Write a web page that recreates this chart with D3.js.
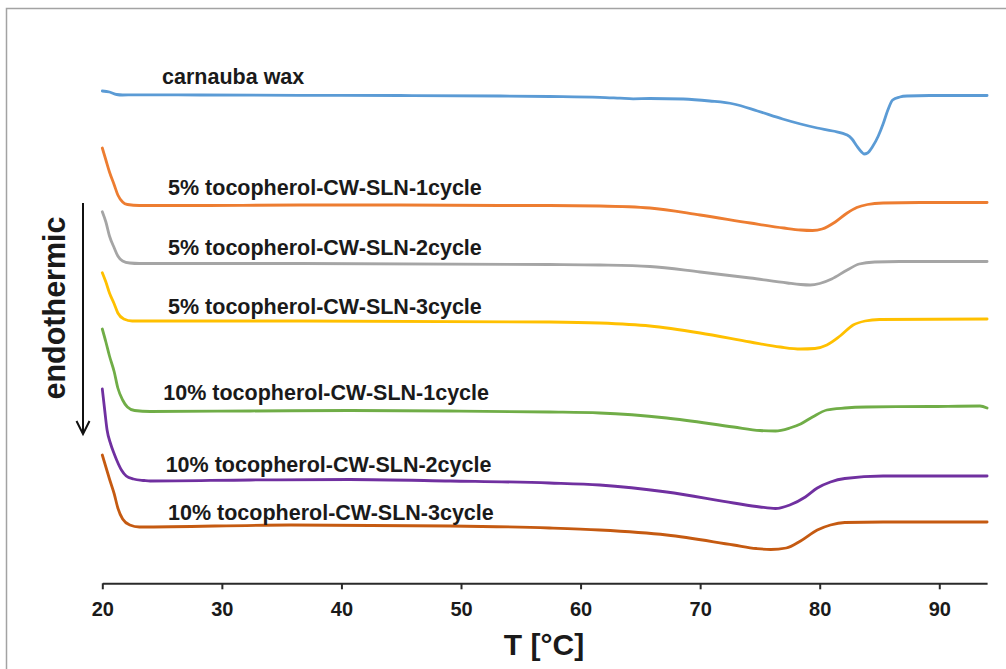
<!DOCTYPE html>
<html>
<head>
<meta charset="utf-8">
<script src="https://cdn.jsdelivr.net/npm/d3@7"></script>
<style>
  html, body { margin: 0; padding: 0; background: #fff; }
  svg { display: block; }
</style>
</head>
<body>
<svg id="chart" width="1006" height="669"></svg>
<script>
// DSC thermograms (stacked, offset heat flow in arbitrary units; down = endothermic)

const xTicks = [20, 30, 40, 50, 60, 70, 80, 90];

const seriesNames = [
  "carnauba wax",
  "5% tocopherol-CW-SLN-1cycle",
  "5% tocopherol-CW-SLN-2cycle",
  "5% tocopherol-CW-SLN-3cycle",
  "10% tocopherol-CW-SLN-1cycle",
  "10% tocopherol-CW-SLN-2cycle",
  "10% tocopherol-CW-SLN-3cycle"
];

const seriesColors = ["#5B9BD5", "#ED7D31", "#A5A5A5", "#FFC000", "#70AD47", "#7030A0", "#C55A11"];

// carnauba wax
const tempCW = [20.0, 20.6, 21.2, 21.7, 22.6, 28.2, 36.5, 44.9, 53.3, 57.4, 61.6, 63.3, 64.4, 65.8, 68.6,
                70.8, 72.8, 74.8, 76.9, 78.4, 79.8, 81.1, 82.3, 82.7, 83.1, 83.5, 83.7, 84.0, 84.4, 84.9,
                85.3, 85.7, 86.1, 86.7, 87.3, 89.2, 94.0];
const heatCW = [50.9, 50.8, 50.55, 50.5, 50.52, 50.5, 50.47, 50.45, 50.4, 50.35, 50.27, 50.18, 50.12, 50.15, 50.1,
                49.9, 49.6, 48.9, 48.1, 47.6, 47.2, 46.9, 46.5, 46.1, 45.4, 44.8, 44.6, 44.7, 45.3, 46.4,
                47.6, 49.0, 50.0, 50.3, 50.4, 50.45, 50.45];

// 5% tocopherol, cycle 1
const temp5c1 = [20.0, 20.3, 20.6, 21.0, 21.3, 21.7, 22.1, 23.1, 28.2, 36.5, 44.9, 53.3, 57.4, 61.6, 65.8,
                 70.0, 74.2, 77.0, 78.4, 79.4, 80.2, 81.3, 82.3, 83.1, 84.0, 85.3, 88.4, 94.0];
const heat5c1 = [45.2, 44.0, 42.8, 41.5, 40.5, 39.8, 39.55, 39.45, 39.45, 39.5, 39.5, 39.45, 39.45, 39.4, 39.2,
                 38.5, 37.7, 37.2, 37.0, 36.95, 37.1, 37.8, 38.7, 39.25, 39.55, 39.7, 39.75, 39.75];

// 5% tocopherol, cycle 2
const temp5c2 = [20.0, 20.3, 20.6, 21.0, 21.3, 21.7, 22.3, 23.1, 36.5, 57.4, 61.6, 65.8, 70.0, 74.2, 77.3,
                 78.4, 79.2, 80.0, 81.0, 82.3, 83.3, 84.6, 86.7, 94.0];
const heat5c2 = [38.83, 37.8, 36.4, 35.2, 34.4, 33.9, 33.7, 33.65, 33.65, 33.55, 33.5, 33.35, 32.8, 32.2, 31.7,
                 31.55, 31.5, 31.65, 32.1, 33.0, 33.6, 33.8, 33.85, 33.85];

// 5% tocopherol, cycle 3
const temp5c3 = [20.0, 20.3, 20.6, 21.0, 21.3, 21.8, 22.5, 24.0, 36.5, 57.4, 61.6, 65.8, 70.0, 74.2, 76.7,
                 78.4, 79.6, 80.6, 81.7, 82.8, 83.8, 85.0, 94.0];
const heat5c3 = [32.73, 31.8, 30.7, 29.6, 28.7, 28.1, 27.9, 27.9, 27.9, 27.8, 27.7, 27.4, 26.7, 25.8, 25.3,
                 25.1, 25.15, 25.5, 26.4, 27.5, 27.9, 28.05, 28.1];

// 10% tocopherol, cycle 1
const temp10c1 = [20.0, 20.3, 20.6, 21.0, 21.3, 21.7, 22.1, 22.7, 24.0, 32.4, 40.7, 49.1, 57.4, 61.6, 67.2,
                  72.8, 75.0, 76.3, 77.5, 78.4, 79.4, 80.6, 82.1, 83.9, 89.2, 93.4, 94.0];
const heat10c1 = [27.1, 25.8, 24.4, 22.8, 21.2, 20.0, 19.3, 18.95, 18.85, 18.9, 18.95, 18.9, 18.8, 18.7, 18.2,
                  17.3, 16.95, 16.9, 17.2, 17.6, 18.3, 19.0, 19.2, 19.3, 19.35, 19.4, 19.2];

// 10% tocopherol, cycle 2
const temp10c2 = [20.0, 20.2, 20.4, 20.7, 21.0, 21.2, 21.6, 22.0, 22.6, 23.5, 24.0, 32.4, 40.7, 49.1, 57.4,
                  61.6, 67.2, 72.8, 75.0, 76.3, 77.5, 78.8, 79.8, 80.9, 82.1, 85.3, 94.0];
const heat10c2 = [21.1, 19.0, 17.0, 15.6, 14.6, 14.0, 13.0, 12.4, 12.1, 11.95, 11.9, 12.0, 12.05, 11.9, 11.7,
                  11.5, 10.8, 9.7, 9.3, 9.15, 9.5, 10.3, 11.2, 11.8, 12.15, 12.4, 12.4];

// 10% tocopherol, cycle 3
const temp10c3 = [20.0, 20.3, 20.6, 21.0, 21.3, 21.7, 22.3, 23.1, 35.7, 49.1, 57.4, 61.6, 67.2, 72.8, 74.7,
                  75.9, 77.2, 78.4, 79.8, 80.9, 82.1, 85.3, 94.0];
const heat10c3 = [14.5, 13.3, 12.1, 10.6, 9.2, 8.1, 7.5, 7.3, 7.5, 7.4, 7.2, 7.0, 6.5, 5.5, 5.15,
                  5.05, 5.2, 5.9, 7.0, 7.5, 7.75, 7.8, 7.8];

const temps = [tempCW, temp5c1, temp5c2, temp5c3, temp10c1, temp10c2, temp10c3];
const heats = [heatCW, heat5c1, heat5c2, heat5c3, heat10c1, heat10c2, heat10c3];

// label anchor temperature and offset above each trace
const labelT    = [25.0, 25.5, 25.5, 25.5, 25.1, 25.3, 25.5];
const labelHeat = [51.6, 40.5, 34.5, 28.6, 20.0, 12.8, 8.0];

const svg = d3.select("#chart");

// outer frame
svg.append("rect")
  .attr("x", 6.5).attr("y", 8.5)
  .attr("width", 1010).attr("height", 680)
  .attr("fill", "none")
  .attr("stroke", "#a3a3a3")
  .attr("stroke-width", 1.5);

const x = d3.scaleLinear().domain([20, 94]).range([102.3, 987.1]);
const y = d3.scaleLinear().domain([0, 55]).range([600, 50]);

const line = d3.line()
  .x(d => x(d[0]))
  .y(d => y(d[1]))
  .curve(d3.curveMonotoneX);

const traces = seriesNames.map((name, i) => ({
  name,
  color: seriesColors[i],
  points: temps[i].map((t, j) => [t, heats[i][j]])
}));

svg.append("g")
  .selectAll("path")
  .data(traces)
  .join("path")
  .attr("d", d => line(d.points))
  .attr("fill", "none")
  .attr("stroke", d => d.color)
  .attr("stroke-width", 2.8)
  .attr("stroke-linejoin", "round")
  .attr("stroke-linecap", "round");

// trace labels
svg.append("g")
  .selectAll("text")
  .data(traces)
  .join("text")
  .attr("x", (d, i) => x(labelT[i]))
  .attr("y", (d, i) => y(labelHeat[i]))
  .attr("font-family", "'Liberation Sans', Arial, sans-serif")
  .attr("font-weight", "bold")
  .attr("font-size", 21.5)
  .attr("fill", "#1a1a1a")
  .text(d => d.name);

// x axis
const xAxis = d3.axisBottom(x)
  .tickValues(xTicks)
  .tickSize(6)
  .tickSizeOuter(0)
  .tickFormat(d3.format("d"));

const gx = svg.append("g")
  .attr("transform", "translate(0,583.3)")
  .call(xAxis);

gx.select(".domain").attr("stroke", "#2a2a2a").attr("stroke-width", 2);
gx.selectAll(".tick line").attr("stroke", "#2a2a2a").attr("stroke-width", 2);
gx.selectAll(".tick text")
  .attr("y", 32.5)
  .attr("dy", 0)
  .attr("font-family", "'Liberation Sans', Arial, sans-serif")
  .attr("font-weight", "bold")
  .attr("font-size", 20)
  .attr("fill", "#1a1a1a");

// axis title
svg.append("text")
  .attr("x", 544)
  .attr("y", 655)
  .attr("text-anchor", "middle")
  .attr("font-family", "'Liberation Sans', Arial, sans-serif")
  .attr("font-weight", "bold")
  .attr("font-size", 30)
  .attr("fill", "#1a1a1a")
  .text("T [°C]");

// endothermic direction marker
svg.append("text")
  .attr("transform", "translate(65,308) rotate(-90)")
  .attr("text-anchor", "middle")
  .attr("font-family", "'Liberation Sans', Arial, sans-serif")
  .attr("font-weight", "bold")
  .attr("font-size", 30.5)
  .attr("fill", "#1a1a1a")
  .text("endothermic");

svg.append("line")
  .attr("x1", 83).attr("y1", 203)
  .attr("x2", 83).attr("y2", 433)
  .attr("stroke", "#111").attr("stroke-width", 2);

svg.append("path")
  .attr("d", "M76.5,421 L83,434 L89.5,421")
  .attr("fill", "none")
  .attr("stroke", "#111")
  .attr("stroke-width", 2)
  .attr("stroke-linejoin", "miter");
</script>
</body>
</html>
